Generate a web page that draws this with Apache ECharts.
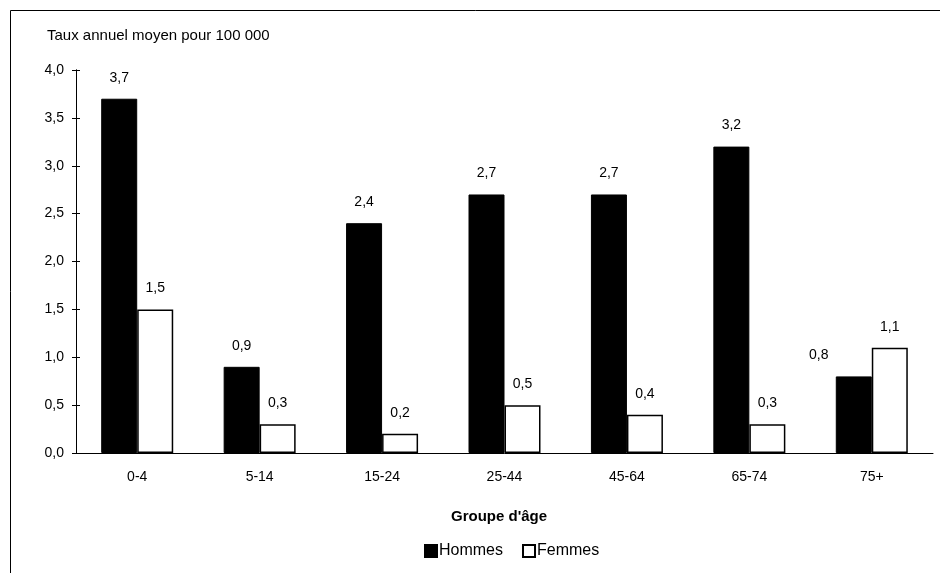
<!DOCTYPE html>
<html>
<head>
<meta charset="utf-8">
<script src="https://cdn.jsdelivr.net/npm/echarts@6/dist/echarts.min.js"></script>
<style>
  html, body { margin: 0; padding: 0; background: #fff; }
  #chart { width: 940px; height: 573px; }
</style>
</head>
<body>
<div id="chart"></div>
<script>
// groupes d'âge
const categories = ['0-4', '5-14', '15-24', '25-44', '45-64', '65-74', '75+'];
// taux annuel moyen pour 100 000
const hommes = [3.7, 0.9, 2.4, 2.7, 2.7, 3.2, 0.8];
const femmes = [1.5, 0.3, 0.2, 0.5, 0.4, 0.3, 1.1];
const yTicks = [0, 0.5, 1, 1.5, 2, 2.5, 3, 3.5, 4];

const FONT = 'Liberation Sans';
const fmt = v => v.toFixed(1).replace('.', ',');

let chart = echarts.init(document.getElementById('chart'), null, {renderer: 'canvas'});

// l'étiquette 0,8 de 75+ est décalée à gauche de la barre
let hommesData = hommes.map((v, i) => {
    if (categories[i] === '75+') {
        return {value: v, label: {offset: [-35, 0]}};
    }
    return v;
});

let barLabel = {
    show: true,
    position: 'top',
    distance: 14,
    color: '#000',
    fontFamily: FONT,
    fontSize: 14,
    formatter: p => fmt(p.value)
};

let yAxisBase = {
    type: 'value',
    min: yTicks[0],
    max: yTicks[yTicks.length - 1],
    interval: 0.5,
    splitLine: {show: false},
    axisLine: {show: true, lineStyle: {color: '#000', width: 1}}
};

let option = {
    backgroundColor: '#fff',
    animation: false,
    textStyle: {fontFamily: FONT, color: '#000'},
    grid: {left: 76, right: 7, top: 70, bottom: 120},
    title: [
        {
            text: 'Taux annuel moyen pour 100 000',
            left: 42, top: 23,
            textStyle: {fontFamily: FONT, fontSize: 15, fontWeight: 'normal', color: '#000'}
        },
        {
            text: "Groupe d'âge",
            left: 446, top: 504,
            textStyle: {fontFamily: FONT, fontSize: 15, fontWeight: 'bold', color: '#000'}
        }
    ],
    legend: {
        data: ['Hommes', 'Femmes'],
        left: 419, top: 538,
        icon: 'rect',
        itemWidth: 12, itemHeight: 12,
        itemGap: 19,
        textStyle: {fontFamily: FONT, fontSize: 16, color: '#000', padding: [0, 0, 0, -3]}
    },
    xAxis: {
        type: 'category',
        data: categories,
        axisLine: {show: true, lineStyle: {color: '#000', width: 1}},
        axisTick: {show: false},
        axisLabel: {color: '#000', fontFamily: FONT, fontSize: 14, margin: 17}
    },
    yAxis: [
        Object.assign({}, yAxisBase, {
            axisTick: {show: true, length: 4, lineStyle: {color: '#000'}},
            axisLabel: {color: '#000', fontFamily: FONT, fontSize: 14, margin: 12, formatter: v => fmt(v)}
        }),
        Object.assign({}, yAxisBase, {
            position: 'left',
            axisTick: {show: true, inside: true, length: 4, lineStyle: {color: '#000'}},
            axisLabel: {show: false}
        })
    ],
    series: [
        {
            name: 'Hommes',
            type: 'bar',
            data: hommesData,
            barWidth: 36,
            barGap: '0%',
            itemStyle: {color: '#000', borderColor: '#000', borderWidth: 1},
            label: barLabel
        },
        {
            name: 'Femmes',
            type: 'bar',
            data: femmes,
            barWidth: 36,
            barGap: '0%',
            itemStyle: {color: '#fff', borderColor: '#000', borderWidth: 1.5},
            label: barLabel
        }
    ],
    graphic: [
        {type: 'line', shape: {x1: 10.5, y1: 10.5, x2: 940, y2: 10.5}, style: {stroke: '#000', lineWidth: 1}},
        {type: 'line', shape: {x1: 10.5, y1: 10.5, x2: 10.5, y2: 573}, style: {stroke: '#000', lineWidth: 1}}
    ]
};

chart.setOption(option);
</script>
</body>
</html>
